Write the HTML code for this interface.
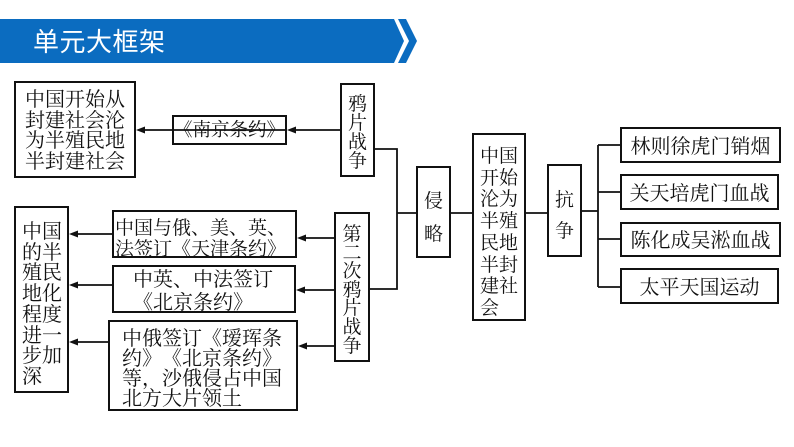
<!DOCTYPE html>
<html><head><meta charset="utf-8">
<style>
html,body{margin:0;padding:0;background:#fff;}
body{width:794px;height:447px;position:relative;overflow:hidden;font-family:"Noto Serif CJK SC","Noto Serif CJK JP","Noto Serif CJK","Liberation Serif",serif;color:#111;}
.b{position:absolute;box-sizing:border-box;border:2px solid #111;background:#fff;}
.t{position:absolute;white-space:nowrap;font-size:20px;line-height:20px;}
.v{position:absolute;text-align:center;font-size:19px;}
#hdr{position:absolute;left:0;top:0;}
.h{position:absolute;left:33px;top:24px;font-family:"Noto Sans CJK SC",sans-serif;font-size:26px;line-height:34px;color:#fff;letter-spacing:0.5px;}
svg{position:absolute;left:0;top:0;}
.l{display:inline-block;width:1em;text-align:right;}
.r{display:inline-block;width:1em;text-align:left;}
</style></head><body>
<svg width="794" height="447" id="hdr">
<polygon points="0,19 394,19 404,41 394,63 0,63" fill="#0b6cc0"/>
<polygon points="398,19 406,19 417,41 406,63 398,63 409,41" fill="#0b6cc0"/>
</svg>
<div class="h">单元大框架</div>

<!-- boxes -->
<div class="b" style="left:14px;top:81px;width:122px;height:97px;"></div>
<div class="t" style="left:25px;top:88px;line-height:20.5px;">中国开始从<br>封建社会沦<br>为半殖民地<br>半封建社会</div>

<div class="b" style="left:172px;top:115px;width:115px;height:30px;"></div>
<div class="t" style="left:172px;top:119px;width:115px;text-align:center;font-size:18.5px;"><span class="l">《</span>南京条约<span class="r">》</span></div>

<div class="b" style="left:340px;top:83px;width:35px;height:94px;"></div>
<div class="v" style="left:340px;top:93px;width:35px;line-height:19px;">鸦<br>片<br>战<br>争</div>

<div class="b" style="left:334px;top:212px;width:36px;height:150px;"></div>
<div class="v" style="left:334px;top:224px;width:36px;line-height:18.6px;">第<br>二<br>次<br>鸦<br>片<br>战<br>争</div>

<div class="b" style="left:416px;top:166px;width:35px;height:92px;"></div>
<div class="v" style="left:416px;top:183px;width:35px;line-height:33px;">侵<br>略</div>

<div class="b" style="left:472px;top:133px;width:54px;height:188px;"></div>
<div class="t" style="left:480px;top:144px;font-size:19px;line-height:21.7px;">中国<br>开始<br>沦为<br>半殖<br>民地<br>半封<br>建社<br>会</div>

<div class="b" style="left:547px;top:164px;width:35px;height:93px;"></div>
<div class="v" style="left:547px;top:183px;width:35px;line-height:31px;">抗<br>争</div>

<div class="b" style="left:620px;top:127px;width:161px;height:36px;"></div>
<div class="t" style="left:620px;top:135px;width:161px;text-align:center;">林则徐虎门销烟</div>
<div class="b" style="left:620px;top:174px;width:159px;height:36px;"></div>
<div class="t" style="left:620px;top:182px;width:159px;text-align:center;">关天培虎门血战</div>
<div class="b" style="left:620px;top:222px;width:161px;height:35px;"></div>
<div class="t" style="left:620px;top:229px;width:161px;text-align:center;">陈化成吴淞血战</div>
<div class="b" style="left:620px;top:268px;width:159px;height:36px;"></div>
<div class="t" style="left:620px;top:276px;width:159px;text-align:center;">太平天国运动</div>

<div class="b" style="left:14px;top:206px;width:55px;height:187px;"></div>
<div class="t" style="left:22px;top:220px;line-height:20.7px;">中国<br>的半<br>殖民<br>地化<br>程度<br>进一<br>步加<br>深</div>

<div class="b" style="left:112px;top:210px;width:185px;height:48px;"></div>
<div class="t" style="left:115px;top:216px;font-size:19px;line-height:21px;">中国与俄<span class="r">、</span>美<span class="r">、</span>英<span class="r">、</span><br>法签订<span class="l">《</span>天津条约<span class="r">》</span></div>

<div class="b" style="left:112px;top:265px;width:184px;height:48px;"></div>
<div class="t" style="left:133px;top:266px;line-height:23px;">中英<span class="r">、</span>中法签订<br><span class="l">《</span>北京条约<span class="r">》</span></div>

<div class="b" style="left:108px;top:320px;width:190px;height:91px;"></div>
<div class="t" style="left:122px;top:327px;line-height:20px;">中俄签订<span class="l">《</span>瑷珲条<br>约<span class="r">》</span><span class="l">《</span>北京条约<span class="r">》</span><br>等<span class="r">，</span>沙俄侵占中国<br>北方大片领土</div>

<!-- connectors -->
<svg width="794" height="447">
<g stroke="#111" stroke-width="1.8" fill="none">
<line x1="287" y1="130" x2="140" y2="130"/>
<line x1="340" y1="130" x2="291" y2="130"/>
<polyline points="375,149 397,149 397,289 370,289"/>
<line x1="397" y1="213" x2="416" y2="213"/>
<line x1="451" y1="213" x2="472" y2="213"/>
<line x1="526" y1="213" x2="547" y2="213"/>
<line x1="582" y1="211" x2="598" y2="211"/>
<line x1="598" y1="145" x2="598" y2="287"/>
<line x1="598" y1="145" x2="620" y2="145"/>
<line x1="598" y1="192" x2="620" y2="192"/>
<line x1="598" y1="239" x2="620" y2="239"/>
<line x1="598" y1="287" x2="620" y2="287"/>
<line x1="334" y1="238" x2="301" y2="238"/>
<line x1="334" y1="290" x2="300" y2="290"/>
<line x1="334" y1="346" x2="302" y2="346"/>
<line x1="112" y1="234" x2="73" y2="234"/>
<line x1="112" y1="285" x2="73" y2="285"/>
<line x1="108" y1="342" x2="73" y2="342"/>
</g>
<g fill="#111">
<polygon points="136,130 145,126.5 145,133.5"/>
<polygon points="287,130 296,126.5 296,133.5"/>
<polygon points="297,238 306,234.5 306,241.5"/>
<polygon points="296,290 305,286.5 305,293.5"/>
<polygon points="298,346 307,342.5 307,349.5"/>
<polygon points="69,234 78,230.5 78,237.5"/>
<polygon points="69,285 78,281.5 78,288.5"/>
<polygon points="69,342 78,338.5 78,345.5"/>
</g>
</svg>
</body></html>
